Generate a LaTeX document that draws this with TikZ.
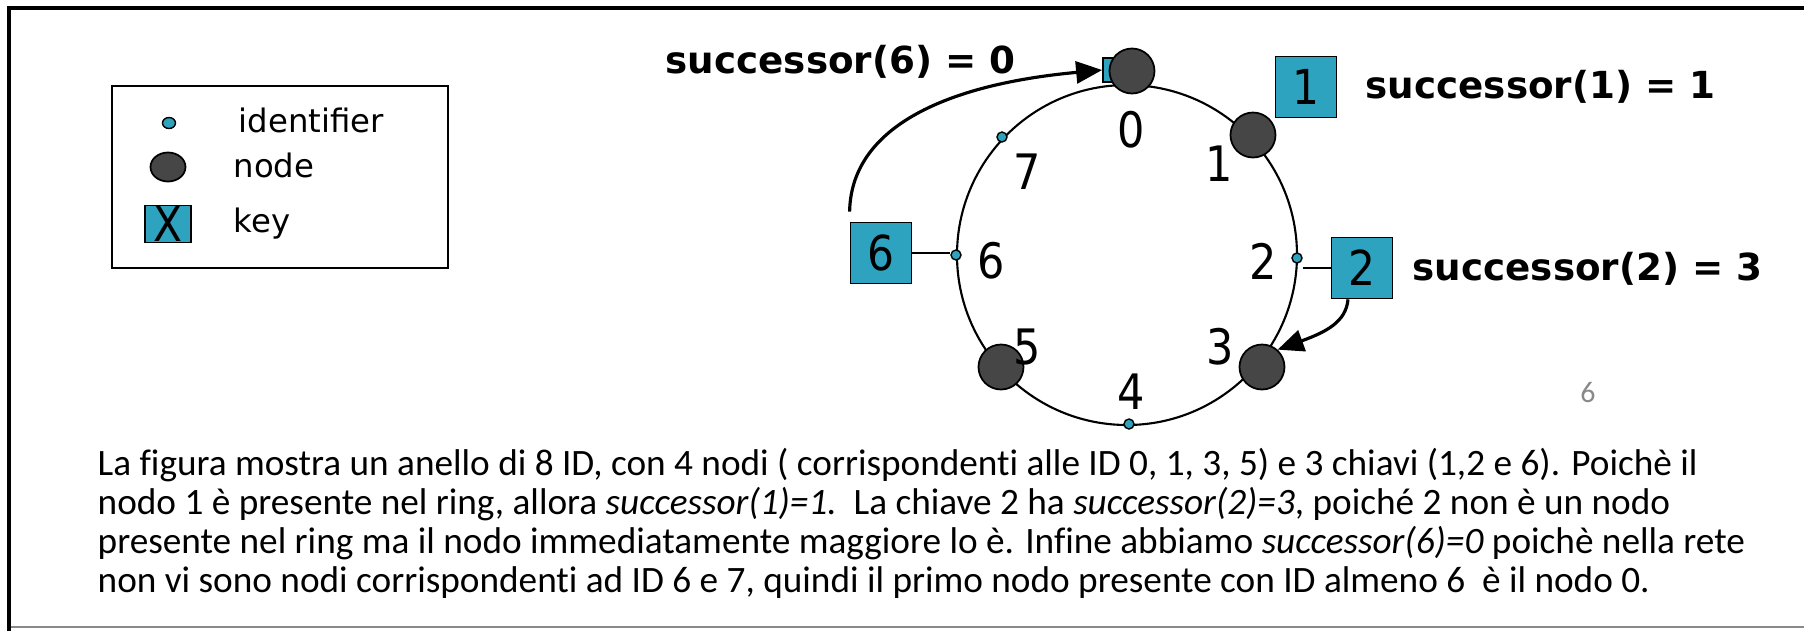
\documentclass[tikz,border=0pt]{standalone}
\usepackage{fontspec}
\setmainfont{DejaVu Sans}
\newfontfamily\narrowfont[FakeStretch=0.88]{DejaVu Sans}
\newfontfamily\legfont{DejaVu Sans}
\newfontfamily\bodyfont[Ligatures=NoCommon]{Carlito}
\usetikzlibrary{shapes.geometric,arrows.meta}
\definecolor{keycyan}{RGB}{46,163,191}
\definecolor{nodegray}{RGB}{70,70,70}
\definecolor{pagegray}{RGB}{137,137,137}
\tikzset{
  keybox/.style={draw=black, fill=keycyan, line width=0.5pt, minimum width=6.1mm, minimum height=6.1mm, inner sep=0pt, font=\narrowfont\fontsize{13.7pt}{16pt}\selectfont},
  nodecirc/.style={circle, draw=black, fill=nodegray, line width=0.5pt, minimum size=4.5mm, inner sep=0pt},
  iddot/.style={circle, draw=black, fill=keycyan, line width=0.4pt, minimum size=1mm, inner sep=0pt},
  ringlabel/.style={inner sep=0pt, font=\narrowfont\fontsize{13.9pt}{16pt}\selectfont},
  succ/.style={anchor=base west, inner sep=0pt, font=\bfseries\fontsize{10.6pt}{13pt}\selectfont},
  legtext/.style={anchor=base west, inner sep=0pt, font=\legfont\fontsize{9.2pt}{10pt}\selectfont},
  bodyline/.style={anchor=base west, inner sep=0pt, font=\bodyfont\fontsize{10.6pt}{12pt}\selectfont},
  ringline/.style={line width=0.6pt},
  arrowline/.style={line width=0.9pt, -{Triangle[length=2.6mm,width=2.2mm]}}
}
\begin{document}
\begin{tikzpicture}[x=0.1mm,y=-0.1mm]
\useasboundingbox (0,0) rectangle (1804,631);
% frame
\draw[pagegray, line width=0.6pt] (9,627) -- (1804,627);
\draw[line width=1.2pt] (9,631) -- (9,8) -- (1804,8);
% legend
\node[draw=black, line width=0.6pt, minimum width=33.6mm, minimum height=18.2mm, inner sep=0pt] (legend) at (280,177) {};
\node[ellipse, draw=black, fill=keycyan, line width=0.4pt, minimum width=1.3mm, minimum height=1.1mm, inner sep=0pt] (legid) at (169,123) {};
\node[ellipse, draw=black, fill=nodegray, line width=0.5pt, minimum width=3.5mm, minimum height=2.9mm, inner sep=0pt] (legnode) at (168,167) {};
\node[keybox, minimum width=4.6mm, minimum height=3.7mm] (legkey) at (168,224) {X};
\node[legtext] (legidtxt) at (238,132) {identifier};
\node[legtext] (legnodetxt) at (233,177) {node};
\node[legtext] (legkeytxt) at (233,232) {key};
% ring
\draw[ringline] (1127,255) circle [radius=17mm];
\node[iddot] (id7) at (1002,137) {};
\node[iddot] (id6) at (956,255) {};
\node[iddot] (id2) at (1297,258) {};
\node[iddot] (id4) at (1129,424) {};
% small key at node 0
\node[draw=black, fill=keycyan, line width=0.5pt, minimum width=2.2mm, minimum height=2.4mm, inner sep=0pt] (k0) at (1114,70) {};
% nodes
\node[nodecirc] (n0) at (1132,71) {};
\node[nodecirc] (n1) at (1253,135) {};
\node[nodecirc] (n3) at (1262,367) {};
\node[nodecirc] (n5) at (1001,367) {};
% ring labels
\node[ringlabel] (l0) at (1131,130) {0};
\node[ringlabel] (l1) at (1219,164) {1};
\node[ringlabel] (l2) at (1263,261) {2};
\node[ringlabel] (l3) at (1220,347) {3};
\node[ringlabel] (l4) at (1131,392) {4};
\node[ringlabel] (l5) at (1027,347) {5};
\node[ringlabel] (l6) at (991,261) {6};
\node[ringlabel] (l7) at (1027,172) {7};
% keys
\node[keybox] (key1) at (1306,87) {1};
\node[keybox] (key2) at (1362,268) {2};
\node[keybox] (key6) at (881,253) {6};
% key connectors
\draw[ringline] (key6.east) -- (key6.east -| id6.west);
\draw[ringline] (key2.west) -- (key2.west -| id2.east);
% arrows
\coordinate (a6) at ([yshift=1mm]key6.north west);
\draw[arrowline] (a6) .. controls (851,130) and (940,85) .. (k0.west);
\coordinate (a2) at ([xshift=-1.4mm]key2.south);
\draw[arrowline] (a2) .. controls (1346,322) and (1326,332) .. (n3.48);
% successor labels
\node[succ] (s6) at (665,73) {successor(6) = 0};
\node[succ] (s1) at (1365,98) {successor(1) = 1};
\node[succ] (s2) at (1412,280) {successor(2) = 3};
% page number
\node[inner sep=0pt, text=pagegray, font=\bodyfont\fontsize{8.5pt}{10pt}\selectfont] (pnum) at (1588,393) {6};
% body text
\node[bodyline] (t1) at (97,475) {La figura mostra un anello di 8 ID, con 4 nodi ( corrispondenti alle ID 0, 1, 3, 5) e 3 chiavi (1,2 e 6). Poichè il};
\node[bodyline] (t2) at (97,514) {nodo 1 è presente nel ring, allora \textit{successor(1)=1.}\ \ La chiave 2 ha \textit{successor(2)=3}, poiché 2 non è un nodo};
\node[bodyline] (t3) at (97,553) {presente nel ring ma il nodo immediatamente maggiore lo è. Infine abbiamo \textit{successor(6)=0} poichè nella rete};
\node[bodyline] (t4) at (97,592) {non vi sono nodi corrispondenti ad ID 6 e 7, quindi il primo nodo presente con ID almeno 6\ \ è il nodo 0.};
\end{tikzpicture}
\end{document}
